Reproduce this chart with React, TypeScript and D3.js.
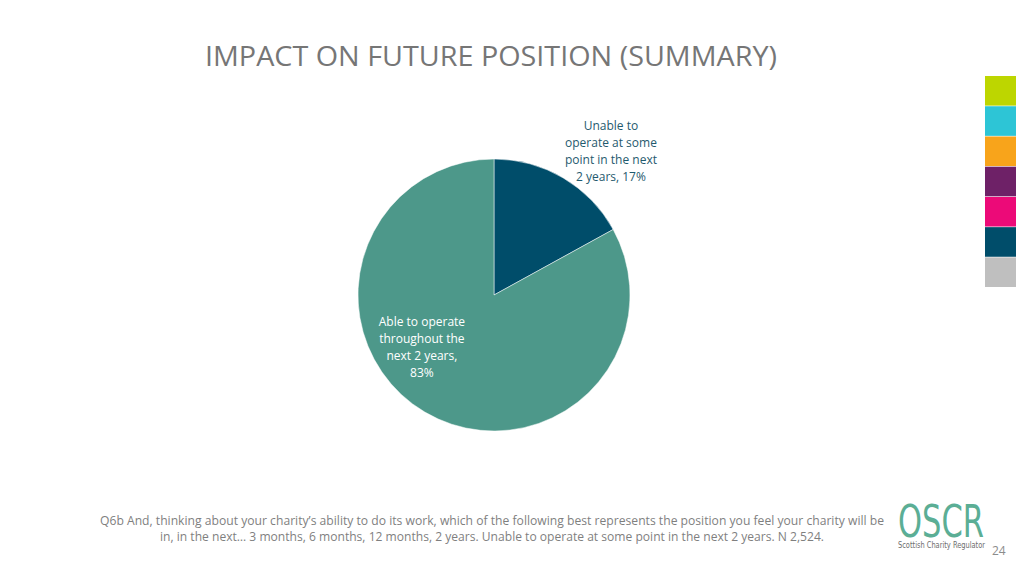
import React from "react";
import * as d3 from "d3";

const categories = ["Unable to operate at some point in the next 2 years", "Able to operate throughout the next 2 years"];
const values = [17, 83];
const sliceColors = ["#004D6A", "#4D988A"];
const labelLines = [
  ["Unable to", "operate at some", "point in the next", "2 years, 17%"],
  ["Able to operate", "throughout the", "next 2 years,", "83%"],
];
const paletteSwatches = ["#BDD600", "#2DC5D6", "#F8A41B", "#6E2167", "#EC0A78", "#004D6A", "#BFBFBF"];

const W = 1024, H = 576;
const FONT = "'Open Sans', 'Noto Sans', sans-serif";

export default function App() {
  const cx = 494, cy = 295, r = 136;
  const pie = d3.pie<number>().sort(null).value((d) => d)(values);
  const arc = d3.arc<d3.PieArcDatum<number>>().innerRadius(0).outerRadius(r);
  const labelPos = [
    { x: cx + 0.86 * r, y: cy - 1.21 * r, fill: "#1F5A6E" },
    { x: cx - 0.53 * r, y: cy + 0.225 * r, fill: "#FFFFFF" },
  ];
  const swatchY = d3.scaleBand<number>().domain(d3.range(paletteSwatches.length)).range([76, 287]).paddingInner(0.02);
  return (
    <svg width={W} height={H} style={{ position: "absolute", left: 0, top: 0, background: "#fff" }}>
      <rect width={W} height={H} fill="#fff" />
      <text x={491} y={66} textAnchor="middle" fontFamily={FONT} fontSize={27} fill="#767676" textLength={572} lengthAdjust="spacingAndGlyphs">
        IMPACT ON FUTURE POSITION (SUMMARY)
      </text>
      <g transform={`translate(${cx},${cy})`}>
        {pie.map((p, i) => (
          <path key={categories[i]} d={arc(p) || ""} fill={sliceColors[i]} stroke="#fff" strokeWidth={0.5} />
        ))}
      </g>
      {labelLines.map((lines, i) => (
        <text key={i} textAnchor="middle" fontFamily={FONT} fontSize={12} fill={labelPos[i].fill}>
          {lines.map((l, j) => (
            <tspan key={j} x={labelPos[i].x} y={labelPos[i].y + j * 17}>{l}</tspan>
          ))}
        </text>
      ))}
      {paletteSwatches.map((c, i) => (
        <rect key={c} x={985} y={swatchY(i)} width={31} height={swatchY.bandwidth()} fill={c} />
      ))}
      <text x={492} y={525} textAnchor="middle" fontFamily={FONT} fontSize={12} fill="#7F7F7F" textLength={784} lengthAdjust="spacingAndGlyphs">
        Q6b And, thinking about your charity’s ability to do its work, which of the following best represents the position you feel your charity will be
      </text>
      <text x={492} y={541} textAnchor="middle" fontFamily={FONT} fontSize={12} fill="#7F7F7F" textLength={664} lengthAdjust="spacingAndGlyphs">
        in, in the next… 3 months, 6 months, 12 months, 2 years. Unable to operate at some point in the next 2 years. N 2,524.
      </text>
      <text x={898} y={537} fontFamily="'DejaVu Sans Condensed', 'Liberation Sans Narrow', sans-serif" fontSize={44} fill="#5BAE95" textLength={86} lengthAdjust="spacingAndGlyphs">
        OSCR
      </text>
      <text x={898} y={548} fontFamily="'DejaVu Sans Condensed', sans-serif" fontSize={8} fill="#6D6D6D" textLength={87} lengthAdjust="spacingAndGlyphs">
        Scottish Charity Regulator
      </text>
      <text x={992} y={555} fontFamily={FONT} fontSize={12} fill="#8C8C8C">24</text>
    </svg>
  );
}
